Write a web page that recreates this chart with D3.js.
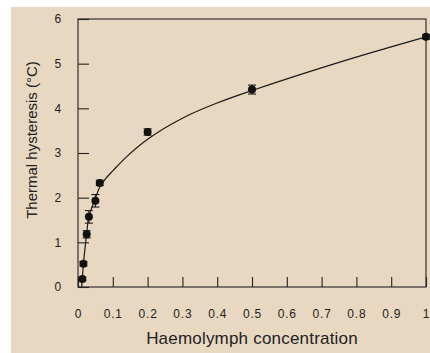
<!DOCTYPE html>
<html>
<head>
<meta charset="utf-8">
<script src="https://cdn.jsdelivr.net/npm/d3@7"></script>
<style>
  body { margin: 0; background: #fff; }
  svg text { font-family: "Liberation Sans", Arial, sans-serif; fill: #222; }
</style>
</head>
<body>
<div id="chart"></div>
<script>
// measured points
const concentration = [0.0125, 0.0156, 0.025, 0.0313, 0.05, 0.0625, 0.2, 0.5, 1];
const hysteresis = [0.18, 0.52, 1.18, 1.57, 1.93, 2.33, 3.47, 4.42, 5.6];
const errors = [0.04, 0.05, 0.08, 0.14, 0.14, 0.06, 0.07, 0.1, 0.05];

// fitted curve
const fitX = [0.0105, 0.0125, 0.0156, 0.025, 0.0313, 0.05, 0.0625, 0.08, 0.1, 0.14, 0.2, 0.3, 0.4, 0.5, 0.75, 1];
const fitY = [0, 0.2, 0.52, 1.2, 1.58, 1.98, 2.24, 2.43, 2.6, 2.92, 3.31, 3.78, 4.12, 4.4, 5.03, 5.6];

const xTicks = [0, 0.1, 0.2, 0.3, 0.4, 0.5, 0.6, 0.7, 0.8, 0.9, 1];
const yTicks = [0, 1, 2, 3, 4, 5, 6];

const W = 430, H = 353;
const margin = {top: 19, right: 4, bottom: 66, left: 78},
    width = W - margin.left - margin.right,
    height = H - margin.top - margin.bottom;

const root = d3.select('#chart')
  .append('svg')
    .attr('width', W)
    .attr('height', H);

// beige panel
root.append('rect')
    .attr('x', 11).attr('y', 7)
    .attr('width', W - 11).attr('height', H - 7)
    .attr('fill', '#e8d8c2');

const svg = root.append('g')
    .attr('transform', 'translate(' + margin.left + ',' + margin.top + ')');

const x = d3.scaleLinear().domain([0, 1]).range([0, width]);
const y = d3.scaleLinear().domain([0, 6]).range([height, 0]);

// frame
svg.append('rect')
    .attr('width', width).attr('height', height)
    .attr('fill', 'none')
    .attr('stroke', '#222')
    .attr('stroke-width', 1.1);

const fmt = d => d === 0 || d === 1 ? String(d) : d3.format('.1f')(d);

const xAxis = svg.append('g')
    .attr('transform', 'translate(0,' + height + ')')
    .call(d3.axisBottom(x).tickValues(xTicks).tickFormat(fmt)
      .tickSizeInner(-10).tickSizeOuter(0).tickPadding(22));

const yAxis = svg.append('g')
    .call(d3.axisLeft(y).tickValues(yTicks).tickFormat(d3.format('d'))
      .tickSizeInner(-11).tickSizeOuter(0).tickPadding(16));

[xAxis, yAxis].forEach(a => {
  a.select('.domain').remove();
  a.selectAll('line').attr('stroke', '#222').attr('stroke-width', 1.1);
  a.selectAll('text')
    .attr('font-size', 12)
    .attr('letter-spacing', 0.8)
    .attr('fill', '#222');
});

// axis titles
root.append('text')
    .attr('x', margin.left + width / 2)
    .attr('y', 344)
    .attr('text-anchor', 'middle')
    .attr('font-size', 17)
    .attr('letter-spacing', 0.2)
    .text('Haemolymph concentration');

root.append('text')
    .attr('transform', 'translate(37,140) rotate(-90)')
    .attr('text-anchor', 'middle')
    .attr('font-size', 15)
    .text('Thermal hysteresis (\u00B0C)');

// fitted curve
const fit = fitX.map((d, i) => ({x: d, y: fitY[i]}));
const line = d3.line()
    .x(d => x(d.x))
    .y(d => y(d.y))
    .curve(d3.curveCatmullRom.alpha(0.5));

svg.append('path')
    .datum(fit)
    .attr('fill', 'none')
    .attr('stroke', '#1a1a1a')
    .attr('stroke-width', 1.2)
    .attr('d', line);

// points with error bars
const pts = concentration.map((d, i) => ({x: d, y: hysteresis[i], e: errors[i]}));

const eb = svg.selectAll('.err')
    .data(pts)
    .enter().append('g').attr('class', 'err')
    .attr('stroke', '#1a1a1a')
    .attr('stroke-width', 1.1);

eb.append('line')
    .attr('x1', d => x(d.x)).attr('x2', d => x(d.x))
    .attr('y1', d => y(d.y - d.e)).attr('y2', d => y(d.y + d.e));
eb.append('line')
    .attr('x1', d => x(d.x) - 4).attr('x2', d => x(d.x) + 4)
    .attr('y1', d => y(d.y + d.e)).attr('y2', d => y(d.y + d.e));
eb.append('line')
    .attr('x1', d => x(d.x) - 4).attr('x2', d => x(d.x) + 4)
    .attr('y1', d => y(d.y - d.e)).attr('y2', d => y(d.y - d.e));

svg.selectAll('.pt')
    .data(pts)
    .enter().append('circle').attr('class', 'pt')
    .attr('cx', d => x(d.x))
    .attr('cy', d => y(d.y))
    .attr('r', 4)
    .attr('fill', '#111');
</script>
</body>
</html>
